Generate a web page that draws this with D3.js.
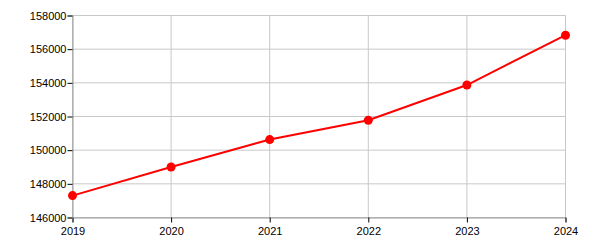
<!DOCTYPE html>
<html><head><meta charset="utf-8">
<script src="https://cdn.jsdelivr.net/npm/d3@7"></script>
<style>body{margin:0;background:#fff}svg text{font-family:"Liberation Sans",Arial,sans-serif;font-size:11px;fill:#000}</style>
</head><body><svg id="c" width="600" height="250"></svg>
<script>
const years = [2019, 2020, 2021, 2022, 2023, 2024];
const values = [147300, 149000, 150630, 151780, 153870, 156830];
const yTicks = [146000, 148000, 150000, 152000, 154000, 156000, 158000];

const svg = d3.select("#c");
const x = d3.scaleLinear().domain([2019, 2024]).range([72.5, 565.5]);
const y = d3.scaleLinear().domain([146000, 158000]).range([217.5, 15.5]);

// grid
svg.append("g").selectAll("line").data(yTicks).join("line")
  .attr("x1", x(2019)).attr("x2", x(2024)).attr("y1", d => y(d)).attr("y2", d => y(d))
  .attr("stroke", "#c8c8c8").attr("stroke-width", 1);
svg.append("g").selectAll("line").data(years).join("line")
  .attr("y1", y(146000)).attr("y2", y(158000)).attr("x1", d => x(d)).attr("x2", d => x(d))
  .attr("stroke", "#c8c8c8").attr("stroke-width", 1);

const xa = svg.append("g").attr("transform", `translate(0,${y(146000)})`)
  .call(d3.axisBottom(x).tickValues(years).tickFormat(d3.format("d")).tickSizeOuter(0).tickSize(5));
const ya = svg.append("g").attr("transform", `translate(${x(2019)},0)`)
  .call(d3.axisLeft(y).tickValues(yTicks).tickFormat(d3.format("d")).tickSizeOuter(0).tickSize(5));
[xa, ya].forEach(a => { a.selectAll("path").attr("stroke", "#999"); a.selectAll("line").attr("stroke", "#000"); a.selectAll("text").attr("fill", "#000").style("font-size","11px"); });
xa.selectAll("text").attr("dy", "0.9em");
ya.selectAll("text").attr("x", -6);

const line = d3.line().x((d, i) => x(years[i])).y(d => y(d));
svg.append("path").datum(values).attr("d", line).attr("fill", "none").attr("stroke", "#ff0000").attr("stroke-width", 2);
svg.append("g").selectAll("circle").data(values).join("circle")
  .attr("cx", (d, i) => x(years[i])).attr("cy", d => y(d)).attr("r", 4.5).attr("fill", "#ff0000");
</script></body></html>
